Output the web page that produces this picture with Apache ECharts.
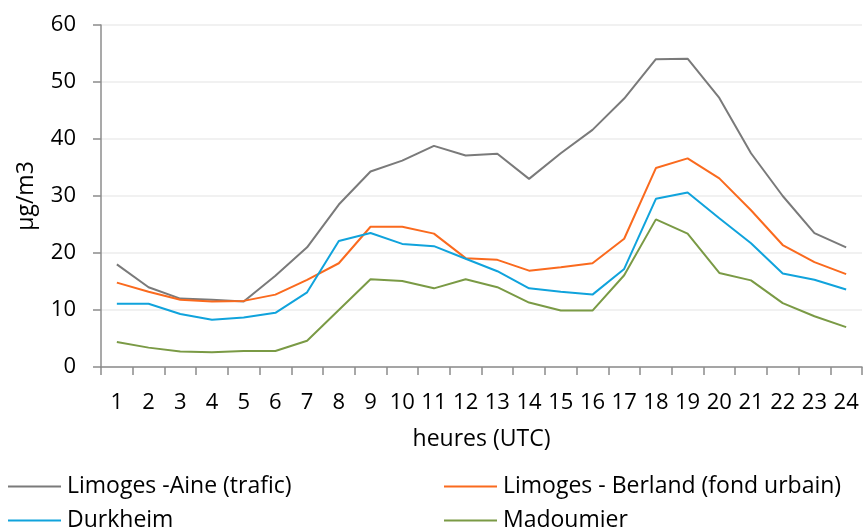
<!DOCTYPE html>
<html>
<head>
<meta charset="utf-8">
<script src="https://cdn.jsdelivr.net/npm/echarts@6/dist/echarts.min.js"></script>
<style>
html, body { margin: 0; padding: 0; background: #fff; }
#chart { width: 863px; height: 531px; }
</style>
</head>
<body>
<div id="chart"></div>
<script>
const hours = ['1','2','3','4','5','6','7','8','9','10','11','12','13','14','15','16','17','18','19','20','21','22','23','24'];
const aine = [18, 14, 12, 11.8, 11.5, 16, 21, 28.5, 34.3, 36.2, 38.8, 37.1, 37.4, 33, 37.5, 41.6, 47.1, 54, 54.1, 47.2, 37.5, 30, 23.5, 21];
const berland = [14.8, 13.2, 11.8, 11.5, 11.6, 12.7, 15.3, 18.2, 24.6, 24.6, 23.4, 19.1, 18.8, 16.9, 17.5, 18.2, 22.5, 34.9, 36.6, 33.1, 27.5, 21.4, 18.4, 16.3];
const durkheim = [11.1, 11.1, 9.3, 8.3, 8.7, 9.5, 13.1, 22.1, 23.5, 21.6, 21.2, 19, 16.8, 13.8, 13.2, 12.7, 17.2, 29.5, 30.6, 26.1, 21.7, 16.4, 15.3, 13.6];
const madoumier = [4.4, 3.4, 2.7, 2.6, 2.8, 2.8, 4.6, 10, 15.4, 15.1, 13.8, 15.4, 14, 11.3, 9.9, 9.9, 16.1, 25.9, 23.4, 16.5, 15.2, 11.2, 8.9, 7];

const font = '"Open Sans", "Noto Sans", sans-serif';
const chart = echarts.init(document.getElementById('chart'));

function line(name, data, color) {
    return {
        name: name,
        type: 'line',
        data: data,
        symbol: 'none',
        lineStyle: { color: color, width: 2 },
        itemStyle: { color: color }
    };
}

// one legend per entry so the 2x2 layout sits where the original has it
function legendItem(name, left, top) {
    return {
        data: [name],
        left: left,
        top: top,
        padding: 0,
        itemWidth: 53,
        itemHeight: 2,
        itemGap: 0,
        icon: 'rect',
        textStyle: { fontFamily: font, fontSize: 23, color: '#000', padding: [0, 0, 0, 1] }
    };
}

const option = {
    animation: false,
    grid: { left: 101, right: 1, top: 25, bottom: 164 },
    legend: [
        legendItem('Limoges -Aine (trafic)', 8, 475),
        legendItem('Durkheim', 8, 509),
        legendItem('Limoges - Berland (fond urbain)', 444, 475),
        legendItem('Madoumier', 444, 509)
    ],
    xAxis: {
        type: 'category',
        data: hours,
        boundaryGap: true,
        name: 'heures (UTC)',
        nameLocation: 'middle',
        nameGap: 61,
        nameTextStyle: { fontFamily: font, fontSize: 23, color: '#000' },
        axisLine: { lineStyle: { color: '#8c8c8c', width: 1.5 } },
        axisTick: { show: true, length: 8, lineStyle: { color: '#8c8c8c', width: 1.5 } },
        axisLabel: { fontFamily: font, fontSize: 22, color: '#000', margin: 25, interval: 0 },
        splitLine: { show: false }
    },
    yAxis: {
        type: 'value',
        min: 0,
        max: 60,
        interval: 10,
        name: 'µg/m3',
        nameLocation: 'middle',
        nameGap: 63,
        nameRotate: 90,
        nameTextStyle: { fontFamily: font, fontSize: 23, color: '#000' },
        axisLine: { show: true, lineStyle: { color: '#8c8c8c', width: 1.5 } },
        axisTick: { show: true, length: 8, lineStyle: { color: '#8c8c8c', width: 1.5 } },
        axisLabel: { fontFamily: font, fontSize: 22, color: '#000', margin: 25 },
        splitLine: { lineStyle: { color: '#ececec', width: 1.5 } }
    },
    series: [
        line('Limoges -Aine (trafic)', aine, '#7a7a7a'),
        line('Limoges - Berland (fond urbain)', berland, '#fa6a1e'),
        line('Durkheim', durkheim, '#10a3dc'),
        line('Madoumier', madoumier, '#7a9a45')
    ]
};

option && chart.setOption(option);
</script>
</body>
</html>
